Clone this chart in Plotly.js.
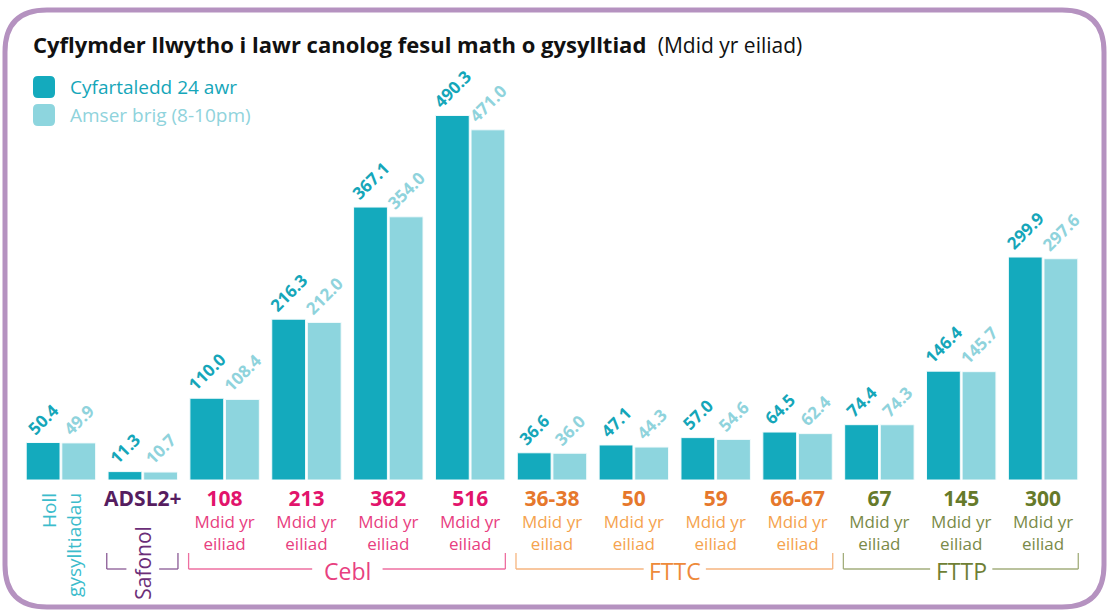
<!DOCTYPE html>
<html>
<head>
<meta charset="utf-8">
<script src="https://cdn.plot.ly/plotly-3.0.1.min.js"></script>
<style>
  html, body { margin: 0; padding: 0; background: #ffffff; }
  #chart { width: 1109px; height: 613px; }
</style>
</head>
<body>
<div id="chart"></div>
<script>
// ---------- data ----------
const categories = ['Holl gysylltiadau', 'ADSL2+', '108', '213', '362', '516', '36-38', '50', '59', '66-67', '67', '145', '300'];
const avg24Values = [50.4, 11.3, 110.0, 216.3, 367.1, 490.3, 36.6, 47.1, 57.0, 64.5, 74.4, 146.4, 299.9];
const peakValues = [49.9, 10.7, 108.4, 212.0, 354.0, 471.0, 36.0, 44.3, 54.6, 62.4, 74.3, 145.7, 297.6];
const seriesNames = ['Cyfartaledd 24 awr', 'Amser brig (8-10pm)'];
const unitText = ['Mdid yr', 'eiliad'];
const groupNames = ['Safonol', 'Cebl', 'FTTC', 'FTTP'];
const groupFirst = [1, 2, 6, 10];
const groupLast = [1, 5, 9, 12];
const titleMain = 'Cyflymder llwytho i lawr canolog fesul math o gysylltiad';
const titleSub = '(Mdid yr eiliad)';

// ---------- styles ----------
const FONT = 'Open Sans, Noto Sans, sans-serif';
const darkTeal = '#14aabd';
const lightTeal = '#8dd5de';
const darkTealText = '#15a6b9';
const lightTealText = '#8fd3dc';
const groupStyle = {
  'Safonol': {num: '#561d60', sub: '#6b2e78', line: '#8a5a95', label: '#6b2e78', gap: 0.2},
  'Cebl':    {num: '#e2146c', sub: '#e8407f', line: '#ee6fa0', label: '#e8407f', gap: 0.43},
  'FTTC':    {num: '#e6782c', sub: '#f5a34e', line: '#f6b57f', label: '#ee8a3a', gap: 0.38},
  'FTTP':    {num: '#667a2a', sub: '#7a8a48', line: '#a3ae7c', label: '#6f7f35', gap: 0.38}
};

// geometry of plot area (px)
const W = 1109, H = 613;
const M = {l: 20, r: 25, t: 60, b: 133};
const plotW = W - M.l - M.r, plotH = H - M.t - M.b;
const pxPerUnit = 0.7435;
const px = x => (x - M.l) / plotW;
const py = y => (H - M.b - y) / plotH;

function groupOf(i) {
  for (let g = 0; g < groupNames.length; g++) {
    if (i >= groupFirst[g] && i <= groupLast[g]) return groupNames[g];
  }
  return null;
}

// tick labels
const tickText = categories.map((c, i) => {
  const g = groupOf(i);
  if (!g) return '';
  const st = groupStyle[g];
  if (g === 'Safonol') {
    return `<span style="font-size:21px;color:${st.num}"><b>${c}</b></span>`;
  }
  return `<span style="font-size:21px;color:${st.num}"><b>${c}</b></span><br>` +
         unitText.map(t => `<span style="color:${st.sub}">${t}</span>`).join('<br>');
});

const traces = [
  {
    type: 'bar', name: seriesNames[0], x: categories, y: avg24Values,
    marker: {color: darkTeal, line: {color: '#f4fbfc', width: 1}},
    texttemplate: '<b>%{y:.1f}</b>', textposition: 'outside', textangle: -45,
    constraintext: 'none', cliponaxis: false,
    textfont: {family: FONT, size: 17, color: darkTealText},
    hoverinfo: 'x+y'
  },
  {
    type: 'bar', name: seriesNames[1], x: categories, y: peakValues,
    marker: {color: lightTeal, line: {color: '#f4fbfc', width: 1}},
    texttemplate: '<b>%{y:.1f}</b>', textposition: 'outside', textangle: -45,
    constraintext: 'none', cliponaxis: false,
    textfont: {family: FONT, size: 17, color: lightTealText},
    hoverinfo: 'x+y'
  }
];

// shapes
const shapes = [];
function roundRect(x0, y0, x1, y1, r) {
  const P = (x, y) => `${px(x)},${py(y)}`;
  return `M ${P(x0 + r, y0)} L ${P(x1 - r, y0)} Q ${P(x1, y0)} ${P(x1, y0 + r)} ` +
    `L ${P(x1, y1 - r)} Q ${P(x1, y1)} ${P(x1 - r, y1)} L ${P(x0 + r, y1)} ` +
    `Q ${P(x0, y1)} ${P(x0, y1 - r)} L ${P(x0, y0 + r)} Q ${P(x0, y0)} ${P(x0 + r, y0)} Z`;
}
// rounded border
shapes.push({type: 'path', xref: 'paper', yref: 'paper', path: roundRect(5, 10, 1104, 607, 42),
  line: {color: '#b592c0', width: 5}, fillcolor: 'rgba(0,0,0,0)', layer: 'below'});
// legend squares
[darkTeal, lightTeal].forEach((col, k) => {
  const y0 = 76 + 28 * k;
  shapes.push({type: 'path', xref: 'paper', yref: 'paper', path: roundRect(33, y0, 55, y0 + 22, 5),
    line: {width: 0}, fillcolor: col});
});
// group brackets
const yLine = py(569), yTop = py(553);
groupNames.forEach((g, k) => {
  const a = groupFirst[k] - 0.44, b = groupLast[k] + 0.43;
  const mid = (groupFirst[k] + groupLast[k]) / 2;
  const gap = groupStyle[g].gap;
  const ln = {color: groupStyle[g].line, width: 1.3};
  shapes.push({type: 'line', xref: 'x', yref: 'paper', x0: a, x1: a, y0: yTop, y1: yLine, line: ln});
  shapes.push({type: 'line', xref: 'x', yref: 'paper', x0: b, x1: b, y0: yTop, y1: yLine, line: ln});
  shapes.push({type: 'line', xref: 'x', yref: 'paper', x0: a, x1: mid - gap, y0: yLine, y1: yLine, line: ln});
  shapes.push({type: 'line', xref: 'x', yref: 'paper', x0: mid + gap, x1: b, y0: yLine, y1: yLine, line: ln});
});

// annotations
const annotations = [];
seriesNames.forEach((n, k) => {
  annotations.push({xref: 'paper', yref: 'paper', x: px(68), y: py(87 + 28 * k),
    xanchor: 'left', yanchor: 'middle', showarrow: false, text: n,
    font: {family: FONT, size: 19, color: k === 0 ? darkTealText : lightTealText}});
});
annotations.push({xref: 'x', yref: 'paper', x: 0, y: py(545), xanchor: 'center', yanchor: 'middle',
  showarrow: false, text: categories[0].replace(' ', '<br>'), textangle: -90, align: 'right',
  font: {family: FONT, size: 19, color: '#3cbccc'}});
groupNames.forEach((g, k) => {
  const mid = (groupFirst[k] + groupLast[k]) / 2;
  if (g === 'Safonol') {
    annotations.push({xref: 'x', yref: 'paper', x: mid, y: py(563), xanchor: 'center', yanchor: 'middle',
      showarrow: false, text: g, textangle: -90,
      font: {family: FONT, size: 21, color: groupStyle[g].label}});
  } else {
    annotations.push({xref: 'x', yref: 'paper', x: mid, y: py(571), xanchor: 'center', yanchor: 'middle',
      showarrow: false, text: g, font: {family: FONT, size: 23, color: groupStyle[g].label}});
  }
});

const layout = {
  width: W, height: H,
  margin: M,
  paper_bgcolor: '#ffffff', plot_bgcolor: '#ffffff',
  font: {family: FONT, size: 17, color: '#222'},
  showlegend: false,
  barmode: 'group', bargap: 0.13, bargroupgap: 0.05,
  title: {
    text: `<b>${titleMain}</b>  <span style="font-size:21px">${titleSub}</span>`,
    font: {family: FONT, size: 22, color: '#111111'},
    xref: 'container', yref: 'container', x: 33 / W, xanchor: 'left',
    y: 1 - 45 / H, yanchor: 'middle'
  },
  xaxis: {
    type: 'category', tickmode: 'array', tickvals: categories, ticktext: tickText,
    showgrid: false, zeroline: false, showline: false, ticks: '',
    ticklabelstandoff: 8,
    tickfont: {family: FONT, size: 17}, fixedrange: true
  },
  yaxis: {
    range: [0, plotH / pxPerUnit], visible: false, showgrid: false, zeroline: false, fixedrange: true
  },
  shapes: shapes,
  annotations: annotations
};

Plotly.newPlot('chart', traces, layout, {displayModeBar: false, staticPlot: true});
</script>
</body>
</html>
